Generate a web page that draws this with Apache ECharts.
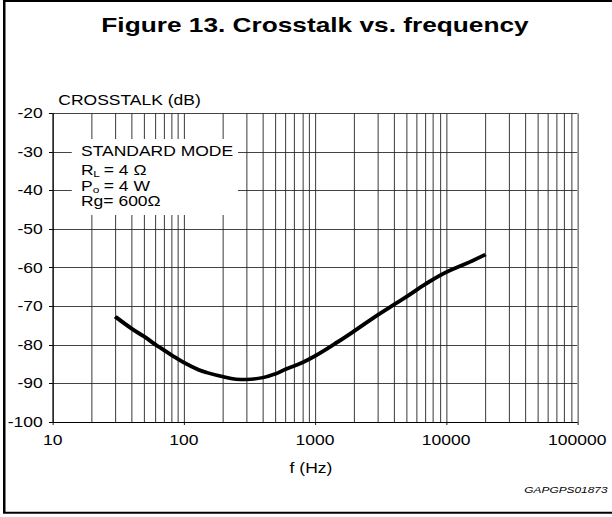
<!DOCTYPE html>
<html><head><meta charset="utf-8">
<script src="https://cdn.jsdelivr.net/npm/echarts@6/dist/echarts.min.js"></script>
<style>
html,body{margin:0;padding:0;background:#fff;overflow:hidden;width:612px;height:517px}
#c{width:489.6px;height:517px;transform:scaleX(1.25);transform-origin:0 0}
</style>
</head><body><div id="c"></div>
<script>
// data
const freqHz = [30,40,50,60,70,80,100,130,150,200,250,300,400,500,600,800,1000,1500,2000,3000,4000,5000,7000,10000,15000,20000];
const crosstalkDb = [-72.7,-75.8,-77.9,-79.8,-81.3,-82.6,-84.6,-86.5,-87.2,-88.3,-88.9,-89.0,-88.5,-87.5,-86.3,-84.6,-82.9,-79.2,-76.4,-72.3,-69.6,-67.5,-64.2,-61.2,-58.6,-56.6];
const xTickLabels = ['10','100','1000','10000','100000'];
const yTickLabels = ['-100','-90','-80','-70','-60','-50','-40','-30','-20'];
const decades = [10,100,1000,10000];
const minorMultipliers = [2,3,4,5,6,7,8,9];

const FONT = 'Liberation Sans, Arial, sans-serif';
const minorLines = [];
decades.forEach(d => minorMultipliers.forEach(m => minorLines.push({xAxis: d*m})));

const chart = echarts.init(document.getElementById('c'), null, {renderer: 'svg'});
chart.setOption({
  animation: false,
  backgroundColor: '#fff',
  title: {
    text: 'Figure 13. Crosstalk vs. frequency',
    left: 247, textAlign: 'center', top: 9,
    textStyle: {fontSize: 21, fontWeight: 'bold', fontFamily: FONT, color: '#000'}
  },
  grid: {left: 42.16, right: 28.24, top: 113.3, bottom: 95, containLabel: false},
  xAxis: {
    type: 'log', logBase: 10, min: 10, max: 100000,
    name: 'f (Hz)', nameLocation: 'middle', nameGap: 46,
    nameTextStyle: {fontSize: 14, fontFamily: FONT, color: '#000', verticalAlign: 'middle', padding: [0, 6.4, 0, 0]},
    axisLine: {show: true, lineStyle: {color: '#000', width: 1}},
    axisTick: {show: true, length: 3, lineStyle: {color: '#000', width: 0.8}},
    axisLabel: {
      fontSize: 14, fontFamily: FONT, color: '#000', margin: 11,
      showMinLabel: true, showMaxLabel: true,
      formatter: v => { const i = Math.round(Math.log10(v)) - 1; return xTickLabels[i] !== undefined ? xTickLabels[i] : ''; }
    },
    splitLine: {show: true, lineStyle: {color: '#222', width: 0.8}}
  },
  yAxis: {
    type: 'value', min: -100, max: -20, interval: 10,
    name: 'CROSSTALK (dB)', nameLocation: 'end', nameGap: 13,
    nameTextStyle: {fontSize: 14, fontFamily: FONT, color: '#000', align: 'left', verticalAlign: 'middle', padding: [0, 0, 0, 4.5]},
    axisLine: {show: true, lineStyle: {color: '#000', width: 0.9}},
    axisTick: {show: true, length: 3, lineStyle: {color: '#000', width: 1}},
    axisLabel: {
      fontSize: 14, fontFamily: FONT, color: '#000', margin: 8,
      formatter: v => { const i = Math.round((v + 100) / 10); return yTickLabels[i] !== undefined ? yTickLabels[i] : ''; }
    },
    splitLine: {show: true, lineStyle: {color: '#444', width: 1}}
  },
  graphic: [
    {type: 'rect', z: 0, shape: {x: 3.4, y: 1, width: 560, height: 511.7}, style: {fill: 'none', stroke: '#000', lineWidth: 2}},
    {type: 'rect', z: 30, shape: {x: 57.4, y: 139, width: 133, height: 76}, style: {fill: '#fff', stroke: null}},
    {type: 'text', z: 31, x: 64.8, y: 151.3, style: {text: 'STANDARD MODE', font: '14px ' + FONT, fill: '#000', verticalAlign: 'middle'}},
    {type: 'text', z: 31, x: 64.8, y: 170, style: {text: 'R', font: '14px ' + FONT, fill: '#000', verticalAlign: 'middle'}},
    {type: 'text', z: 31, x: 74.6, y: 173.8, style: {text: 'L', font: '9.5px ' + FONT, fill: '#000', verticalAlign: 'middle'}},
    {type: 'text', z: 31, x: 83, y: 170, style: {text: '= 4 Ω', font: '14px ' + FONT, fill: '#000', verticalAlign: 'middle'}},
    {type: 'text', z: 31, x: 64.8, y: 186, style: {text: 'P', font: '14px ' + FONT, fill: '#000', verticalAlign: 'middle'}},
    {type: 'text', z: 31, x: 74.2, y: 189.5, style: {text: 'o', font: '9.5px ' + FONT, fill: '#000', verticalAlign: 'middle'}},
    {type: 'text', z: 31, x: 83, y: 186, style: {text: '= 4 W', font: '14px ' + FONT, fill: '#000', verticalAlign: 'middle'}},
    {type: 'text', z: 31, x: 64.8, y: 201.3, style: {text: 'Rg= 600Ω', font: '14px ' + FONT, fill: '#000', verticalAlign: 'middle'}},
    {type: 'text', z: 31, x: 486, y: 489.3, style: {text: 'GAPGPS01873', font: 'italic 9.5px ' + FONT, fill: '#000', align: 'right', verticalAlign: 'middle'}}
  ],
  series: [
    {
      type: 'line', z: 40, data: freqHz.map((f, i) => [f, crosstalkDb[i]]),
      smooth: 0.4, showSymbol: false, symbol: 'none',
      lineStyle: {color: '#000', width: 3.6},
      markLine: {
        z: 20, silent: true, symbol: ['none', 'none'], label: {show: false},
        lineStyle: {color: '#222', width: 0.8, type: 'solid'},
        emphasis: {disabled: true},
        data: minorLines
      }
    }
  ]
});
</script></body></html>
